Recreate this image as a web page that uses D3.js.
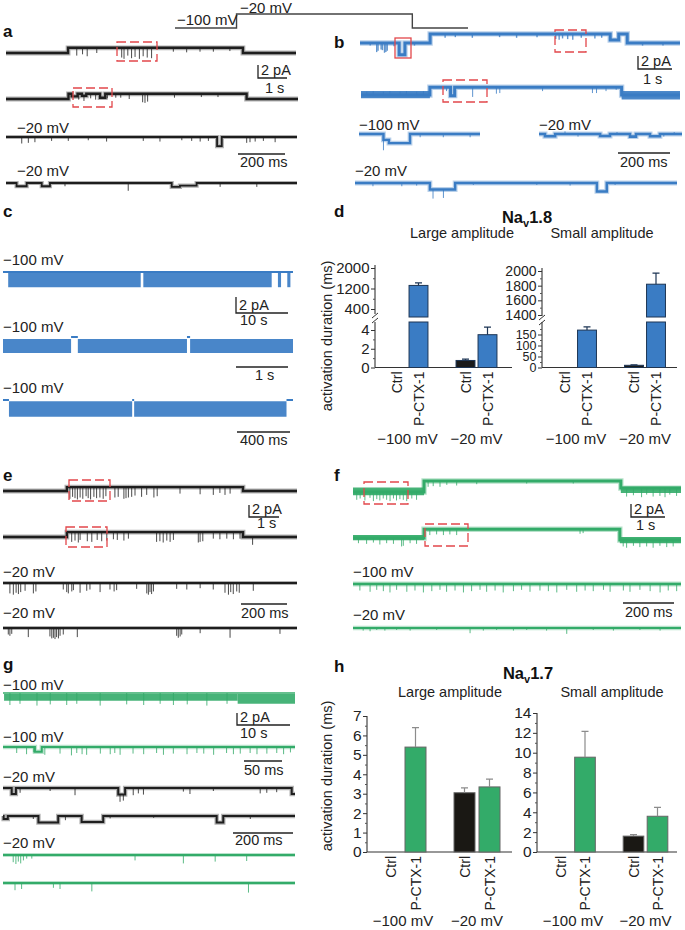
<!DOCTYPE html>
<html><head><meta charset="utf-8">
<script src="https://cdn.jsdelivr.net/npm/d3@7"></script>
<style>
body{margin:0;background:#fff}
svg{display:block;font-family:"Liberation Sans",Arial,sans-serif}
</style></head><body>
<svg id="fig" width="685" height="930"></svg>
<script>
// ---------------- DATA ----------------
// Voltage protocol (mV) with step times (s)
const protocolV = [[0, -100], [2.1, -100], [2.1, -20], [8.1, -20], [8.1, -100], [10, -100]];

// Bar charts: order = [Ctrl −100, P-CTX-1 −100, Ctrl −20, P-CTX-1 −20]
const groups = ["−100 mV", "−20 mV"];
const conditions = ["Ctrl", "P-CTX-1"];
const nav18Large = [0, 1320, 0.75, 3.5];
const nav18LargeErr = [0, 100, 0.15, 0.8];
const nav18Small = [0, 170, 10, 1820];
const nav18SmallErr = [0, 15, 2, 150];
const nav17Large = [0, 5.4, 3.05, 3.35];
const nav17LargeErr = [0, 1.0, 0.25, 0.4];
const nav17Small = [0, 9.55, 1.6, 3.6];
const nav17SmallErr = [0, 2.6, 0.15, 0.9];
const nav18LargeUpTicks = [400, 1200, 2000];
const nav18LargeLowTicks = [0, 2, 4];
const nav18SmallUpTicks = [1400, 1600, 1800, 2000];
const nav18SmallLowTicks = [0, 50, 100, 150];
const nav17LargeTicks = [0, 1, 2, 3, 4, 5, 6, 7];
const nav17SmallTicks = [0, 2, 4, 6, 8, 10, 12, 14];

// Traces: levels [t0,t1,pA], dips [t0,t1,depth pA], spikes [t,depth pA], bands [t0,t1,lo,hi]
// panel a (s / ms)
const a1Levels = [[0, 2.14, 0], [2.14, 8.17, 0.8], [8.17, 10, 0]];
const a1Spikes = [[2.44, 1.2], [2.64, 1.0], [2.80, 1.3], [3.13, 0.8], [3.99, 1.5], [4.07, 1.7], [4.20, 1.2], [4.33, 1.6], [4.45, 1.4], [4.60, 1.7], [4.73, 1.3], [4.87, 1.5], [5.02, 1.6], [5.77, 0.6], [6.23, 0.7], [6.69, 0.6], [7.15, 0.6], [7.72, 0.5]];
const a2Levels = [[0, 2.14, 0], [2.14, 8.24, 0.8], [8.24, 10, 0]];
const a2Dips = [[2.25, 2.45, 0.4], [2.6, 2.75, 0.3], [3.22, 3.4, 0.6]];
const a2Spikes = [[2.49, 0.9], [2.67, 0.8], [2.90, 0.7], [3.07, 0.9], [3.47, 0.7], [3.76, 0.6], [3.93, 0.6], [4.22, 0.8], [4.68, 1.3], [4.76, 1.4], [4.85, 1.2], [5.77, 0.6], [6.69, 0.5], [7.26, 0.5]];
const a3Dips = [[898, 918, 1.4]];
const a3Spikes = [[67, 1.0], [95, 0.9], [123, 0.8], [194, 0.6], [265, 0.6], [350, 0.5], [428, 0.7], [584, 0.6], [655, 0.7], [748, 0.5], [790, 0.6], [826, 0.7], [861, 0.6], [1024, 0.9], [1038, 0.8], [1060, 0.7], [1095, 0.6], [1145, 0.8]];
const a4Dips = [[45, 88, 0.5], [152, 187, 0.5], [705, 740, 0.6], [740, 811, 0.4]];
const a4Spikes = [[251, 0.5], [520, 1.2], [911, 0.6], [1067, 0.6]];
// panel b
const b1Levels = [[0, 2.06, 0], [2.06, 7.35, 1.4], [7.35, 7.6, 0.45], [7.6, 7.85, 1.4], [7.85, 9.4, 0]];
const b1Dips = [[1.15, 1.32, 1.8]];
const b1Spikes = [[0.3, 0.4], [0.49, 1.4], [0.53, 1.2], [0.62, 1.0], [0.66, 1.1], [0.72, 1.5], [0.76, 1.4], [0.80, 1.2], [1.0, 0.5], [1.6, 0.4], [2.5, 0.6], [2.8, 0.5], [3.3, 0.6], [4.1, 0.5], [4.6, 0.6], [5.2, 0.5], [5.75, 0.8], [5.85, 0.9], [5.95, 0.7], [6.1, 0.8], [6.25, 0.9], [6.5, 0.6], [6.9, 0.7], [7.1, 0.6], [8.3, 0.4], [8.9, 0.4]];
const b2Levels = [[0, 2.03, 0], [2.03, 7.68, 1.2], [7.68, 9.4, 0]];
const b2Dips = [[2.64, 2.76, 1.3]];
const b2Bands = [[0, 2.03, -0.5, 0.6], [7.68, 9.4, -0.7, 0.6]];
const b2Spikes = [[0.17, -0.5], [0.36, -0.6], [0.66, -0.5], [0.85, -0.6], [1.15, -0.5], [1.34, -0.6], [1.64, -0.5], [1.84, -0.6], [2.52, 0.6], [3.29, 1.5], [3.99, 1.0], [4.09, 0.9], [5.35, 0.6], [6.82, 0.9], [6.94, 0.9], [7.22, 0.6], [7.52, 0.4]];
const b3Dips = [[94, 115, 0.9], [115, 196, 1.4]];
const b3Spikes = [[94, 1.6], [235, 0.5], [324, 0.5], [427, 0.5]];
const b4Dips = [[23, 62, 0.35], [235, 273, 0.3], [350, 373, 0.4], [427, 465, 0.35]];
const b4Spikes = [[100, -0.4], [150, 0.4], [300, -0.3], [480, 0.4], [520, -0.3]];
const b5Dips = [[288, 385, 1.0], [930, 968, 1.3]];
const b5Spikes = [[69, 0.5], [180, 0.5], [237, 0.4], [300, 1.4], [340, 1.3], [455, 0.3], [699, 0.3], [827, 0.4], [1000, 0.3]];
// panel c
const c1Levels = [[0, 55.8, 0]];
const c1Bands = [[1.0, 26.5, -1.9, -0.1], [27.0, 51.7, -1.9, -0.1], [52.9, 53.5, -1.9, -0.1], [54.7, 55.3, -1.9, -0.1]];
const c2Levels = [[1.31, 1.44, 0], [3.54, 3.6, 0]];
const c2Bands = [[0, 1.31, -2.0, -0.25], [1.44, 3.54, -2.0, -0.25], [3.6, 5.58, -2.0, -0.25]];
const c3Levels = [[0, 45, 0], [975, 990, 0], [2140, 2189, 0]];
const c3Bands = [[45, 975, -2.1, -0.15], [990, 2140, -2.1, -0.15]];
// panel e
const e1Levels = [[0, 2.13, 0], [2.13, 8.0, 0.6], [8.0, 9.8, 0]];
const e1Spikes = [[2.23, 1.8], [2.32, 1.5], [2.40, 1.7], [2.48, 1.9], [2.57, 1.6], [2.66, 1.8], [2.77, 1.4], [2.84, 1.7], [2.92, 1.9], [3.03, 1.5], [3.12, 1.7], [3.23, 1.6], [3.34, 1.8], [3.43, 1.4], [3.73, 1.6], [3.84, 1.5], [4.03, 1.8], [4.10, 1.7], [4.18, 1.6], [4.29, 1.5], [4.40, 1.3], [4.62, 1.5], [4.79, 1.2], [5.03, 1.6], [5.14, 1.4], [5.90, 1.0], [6.57, 1.1], [7.01, 1.2], [7.23, 0.9], [7.40, 1.2], [7.57, 1.0]];
const e2Levels = [[0, 2.13, 0], [2.13, 8.0, 0.75], [8.0, 9.8, 0]];
const e2Spikes = [[2.29, 1.5], [2.40, 1.3], [2.51, 1.6], [2.57, 1.2], [2.81, 1.4], [2.96, 1.5], [3.14, 1.2], [3.29, 1.4], [3.46, 1.3], [3.68, 1.1], [3.81, 1.2], [4.03, 1.3], [4.18, 1.0], [5.12, 1.5], [5.23, 1.4], [5.34, 1.6], [5.46, 1.3], [5.57, 1.5], [5.68, 1.2], [6.51, 1.6], [6.57, 1.5], [6.66, 1.4], [7.01, 1.0], [7.23, 1.1], [7.46, 1.0], [7.68, 1.1], [7.90, 1.0], [8.32, 1.2]];
const e3Spikes = [[30, 1.6], [45, 1.8], [57, 1.5], [67, 1.7], [77, 1.4], [96, 1.2], [132, 1.6], [143, 1.3], [262, 1.0], [277, 1.4], [284, 1.6], [299, 1.3], [306, 1.1], [335, 1.5], [364, 1.2], [378, 1.0], [422, 1.4], [465, 1.0], [483, 1.3], [494, 1.1], [581, 0.9], [625, 1.6], [632, 1.8], [639, 1.4], [646, 1.7], [654, 1.3], [755, 0.9], [799, 1.0], [857, 0.8], [914, 1.0], [965, 1.5], [980, 1.8], [990, 1.4], [1001, 1.7], [1016, 1.3], [1027, 1.5], [1088, 1.2]];
const e4Spikes = [[23, 1.0], [30, 1.2], [38, 0.9], [110, 1.4], [204, 1.3], [212, 1.6], [219, 1.5], [226, 1.7], [233, 1.4], [241, 1.6], [248, 1.2], [262, 1.0], [323, 1.4], [755, 1.2], [762, 1.5], [770, 1.3], [777, 1.0], [857, 0.8], [987, 1.5], [1204, 0.9]];
// panel f
const f1Levels = [[0, 2.09, 0], [2.09, 7.88, 1.7], [7.88, 9.65, 0.6]];
const f1Bands = [[0, 2.09, -0.5, 0.7], [7.88, 9.65, -0.15, 0.8]];
const f1Spikes = [[0.11, 1.2], [0.21, 1.0], [0.35, 1.3], [0.50, 0.9], [0.60, 1.4], [0.70, 1.1], [0.79, 1.3], [0.89, 1.0], [0.99, 1.2], [1.09, 1.4], [1.19, 1.0], [1.28, 1.3], [1.38, 1.1], [1.48, 1.2], [1.58, 1.4], [1.73, 1.0], [1.87, 1.2], [2.21, 0.9], [2.36, 0.8], [2.56, 0.9], [2.76, 0.6], [3.05, 0.7], [3.64, 0.5], [5.11, 0.4], [6.48, 0.4], [8.05, 1.3], [8.25, 1.1], [8.49, 1.4], [8.64, 1.0], [8.83, 1.3], [9.03, 1.2], [9.18, 1.4], [9.32, 1.0], [9.52, 1.2]];
const f2Levels = [[0, 2.09, 0], [2.09, 7.85, 1.35], [7.85, 9.65, -0.3]];
const f2Bands = [[0, 2.09, -0.3, 0.45], [7.85, 9.65, -0.8, 0.15]];
const f2Spikes = [[0.16, 0.8], [0.40, 0.9], [0.60, 0.7], [0.79, 1.0], [0.99, 0.8], [1.19, 0.9], [1.43, 1.3], [1.48, 1.2], [1.68, 0.8], [1.87, 0.9], [2.26, 0.9], [2.46, 0.8], [2.66, 0.9], [2.85, 0.8], [3.05, 0.9], [6.68, 0.7], [6.77, 0.6], [7.95, 1.0], [8.05, 1.2], [8.25, 0.9], [8.44, 1.1], [8.64, 1.0], [8.83, 1.2], [9.03, 0.9], [9.23, 1.1], [9.42, 1.0]];
const f3Spikes = [[27, 1.0], [67, 1.2], [93, 0.9], [119, 1.1], [145, 1.3], [171, 0.9], [211, 1.2], [243, 1.0], [276, 1.3], [309, 1.1], [341, 0.9], [367, 1.2], [400, 1.0], [433, 1.3], [465, 1.1], [498, 0.9], [524, 1.2], [557, 1.0], [589, 1.3], [629, 1.1], [661, 0.9], [694, 1.2], [733, 1.0], [766, 1.1], [799, 1.3], [838, 0.9], [877, 1.2], [910, 1.0], [942, 1.1], [982, 0.9], [1008, 1.2], [1060, 1.0], [1086, 1.2], [1125, 0.9], [1165, 1.1], [1204, 1.3], [1236, 1.0], [1269, 1.1]];
const f4Spikes = [[40, 0.4], [67, 0.5], [93, 0.3], [125, 0.4], [171, 0.3], [224, 0.4], [328, 0.3], [459, 0.8], [511, 0.4], [563, 0.3], [629, 0.4], [681, 0.3], [759, 0.4], [838, 0.9], [942, 0.3], [1021, 0.4], [1125, 0.3], [1204, 0.4]];
// panel g
const g1Levels = [[0, 55, 0]];
const g1Bands = [[0.2, 44.2, -1.3, -0.15], [44.2, 55, -1.8, -0.15]];
const g1Spikes = [[1.3, 2.0], [3.2, 1.8], [6.4, 2.1], [8.9, 1.9], [12.0, 2.0], [13.9, 1.8], [18.3, 2.1], [23.3, 1.9], [26.5, 2.0], [29.6, 1.8], [32.1, 2.0], [34.7, 1.9], [38.4, 2.1], [42.2, 1.8]];
const g2Dips = [[42, 51, 0.8]];
const g2Spikes = [[18, 1.0], [31, 1.2], [40, 0.9], [55, 1.3], [75, 1.1], [90, 1.4], [97, 1.0], [104, 1.2], [110, 1.3], [128, 1.1], [141, 1.2], [147, 1.0], [154, 1.3], [171, 1.1], [185, 1.2], [202, 1.0], [211, 1.3], [224, 1.1], [242, 1.2], [255, 1.0], [264, 1.1], [277, 1.3], [294, 1.0], [303, 1.2], [312, 1.1], [325, 1.0], [334, 1.2], [347, 1.1], [360, 1.0], [369, 1.2], [378, 0.9]];
const g3Dips = [[29, 43, 1.0], [384, 407, 1.1], [962, 973, 1.0]];
const g3Spikes = [[57, 0.8], [157, 0.5], [240, 1.2], [390, 1.2], [401, 1.0], [434, 1.2], [451, 0.9], [468, 1.1], [601, 0.6], [623, 1.0], [701, 0.5], [857, 0.9], [879, 0.8], [912, 0.7]];
const g4Dips = [[2, 16, 0.5], [118, 184, 1.1], [262, 334, 1.0], [712, 734, 1.1]];
const g4Spikes = [[101, 0.5], [208, 0.7], [357, 0.4], [502, 0.3], [824, 0.5]];
const g5Spikes = [[34, 1.2], [43, 1.5], [51, 1.1], [59, 1.4], [68, 0.9], [79, 0.6], [96, 0.6], [440, 0.9], [601, 1.4], [707, 1.1], [812, 1.0]];
const g6Spikes = [[40, 1.2], [62, 1.0], [168, 0.8], [190, 1.0], [296, 1.4], [818, 1.6]];

// ---------------- DRAWING ----------------
const svg = d3.select("#fig");
const BLACK = "#1e1e1e", BLUE = "#3a7cc4", GREEN = "#33ab69", RED = "#e2474b", INK = "#222";

function label(x, y, s, o = {}) {
  const t = svg.append("text").attr("x", x).attr("y", y).text(s)
    .attr("font-size", o.size || 15).attr("fill", o.fill || INK);
  if (o.anchor) t.attr("text-anchor", o.anchor);
  if (o.weight) t.attr("font-weight", o.weight);
  return t;
}

function drawTrace(o) {
  const g = svg.append("g");
  const x = d3.scaleLinear().domain([0, o.dur]).range([o.x0, o.x1]);
  const y = d3.scaleLinear().domain([0, 1]).range([o.y0, o.y0 - o.ppa]);
  const levels = o.levels || [[0, o.dur, 0]];
  const dips = o.dips || [];
  const levelAt = t => { for (const s of levels) if (t >= s[0] && t <= s[1]) return s[2]; return 0; };
  const dipAt = t => d3.sum(dips.filter(d => t >= d[0] && t < d[1]), d => d[2]);
  const area = d3.area().x(d => x(d.t)).y0(d => y(d.lo)).y1(d => y(d.hi));
  (o.bands || []).forEach(b => {
    g.append("path").datum([{ t: b[0], lo: b[2], hi: b[3] }, { t: b[1], lo: b[2], hi: b[3] }])
      .attr("d", area).attr("fill", o.color).attr("opacity", o.bandOpacity || 0.9);
  });
  const pts = [];
  let prevEnd = null;
  levels.forEach(s => {
    if (prevEnd !== null && s[0] !== prevEnd) pts.push(null);
    const bps = [s[0], s[1]];
    dips.forEach(d => { if (d[0] > s[0] && d[0] < s[1]) bps.push(d[0]); if (d[1] > s[0] && d[1] < s[1]) bps.push(d[1]); });
    const sb = Array.from(new Set(bps)).sort((a, b) => a - b);
    for (let i = 0; i < sb.length - 1; i++) {
      const v = s[2] - dipAt((sb[i] + sb[i + 1]) / 2);
      pts.push({ t: sb[i], v }, { t: sb[i + 1], v });
    }
    prevEnd = s[1];
  });
  const line = d3.line().defined(d => d).x(d => x(d.t)).y(d => y(d.v));
  if (o.halo !== false) {
    g.append("path").attr("d", line(pts)).attr("fill", "none")
      .attr("stroke", o.color).attr("stroke-width", (o.w || 2.2) + 2.4).attr("opacity", 0.35);
  }
  g.append("path").attr("d", line(pts)).attr("fill", "none")
    .attr("stroke", o.color).attr("stroke-width", o.w || 2.2);
  g.selectAll(".sp").data(o.spikes || []).enter().append("line")
    .attr("x1", d => x(d[0])).attr("x2", d => x(d[0]))
    .attr("y1", d => y(levelAt(d[0]) - dipAt(d[0])))
    .attr("y2", d => y(levelAt(d[0]) - dipAt(d[0]) - d[1]))
    .attr("stroke", o.color).attr("stroke-width", o.sw || 1).attr("opacity", 0.8);
}

function redBox(x0, y0, x1, y1, dashed = true) {
  svg.append("rect").attr("x", x0).attr("y", y0).attr("width", x1 - x0).attr("height", y1 - y0)
    .attr("fill", "none").attr("stroke", RED).attr("stroke-width", 1.3)
    .attr("stroke-dasharray", dashed ? "9,4" : null);
}

function scaleBar(sx, sy0, sy1, sx2, tl, tx, ty) {
  svg.append("path").attr("d", `M${sx},${sy0}V${sy1}H${sx2}`).attr("fill", "none").attr("stroke", INK).attr("stroke-width", 1.3);
  label(sx + 3, sy1 - 3, "2 pA", { size: 14.5 });
  label(tx, ty, tl, { size: 14.5 });
}
function timeBar(x0, x1, yy, tl, tx, ty) {
  svg.append("line").attr("x1", x0).attr("x2", x1).attr("y1", yy).attr("y2", yy).attr("stroke", INK).attr("stroke-width", 1.3);
  label(tx, ty, tl, { size: 14.5 });
}

// Voltage protocol
{
  const x = d3.scaleLinear().domain([0, 10]).range([175, 468]);
  const y = d3.scaleLinear().domain([-100, -20]).range([28, 14]);
  const pl = d3.line().x(d => x(d[0])).y(d => y(d[1]));
  svg.append("path").attr("d", pl(protocolV)).attr("fill", "none").attr("stroke", "#444").attr("stroke-width", 1.4);
  label(177, 25, "−100 mV", { size: 15 });
  label(240, 13, "−20 mV", { size: 15 });
}

// Panel letters
[["a", 3, 37], ["b", 334, 48], ["c", 3, 217], ["d", 334, 217], ["e", 3, 481], ["f", 334, 481], ["g", 3, 670], ["h", 334, 672]]
  .forEach(d => label(d[1], d[2], d[0], { size: 17, weight: "bold", fill: "#111" }));

// Panel a
drawTrace({ x0: 6, x1: 296, y0: 53, ppa: 6.5, dur: 10, levels: a1Levels, spikes: a1Spikes, color: BLACK, w: 2.4 });
drawTrace({ x0: 6, x1: 298, y0: 99, ppa: 6.5, dur: 10, levels: a2Levels, dips: a2Dips, spikes: a2Spikes, color: BLACK, w: 2.4 });
label(17, 133, "−20 mV");
drawTrace({ x0: 6, x1: 297, y0: 137, ppa: 6.5, dur: 1238, dips: a3Dips, spikes: a3Spikes, color: BLACK, w: 1.8 });
label(17, 176, "−20 mV");
drawTrace({ x0: 6, x1: 297, y0: 183, ppa: 6.5, dur: 1238, dips: a4Dips, spikes: a4Spikes, color: BLACK, w: 1.8 });
redBox(117, 42, 157, 61); redBox(73, 88, 112, 107);
scaleBar(258, 65, 78, 287, "1 s", 265, 93);
timeBar(238, 285, 154, "200 ms", 240, 167);

// Panel b
drawTrace({ x0: 360, x1: 680, y0: 43, ppa: 6.5, dur: 9.4, levels: b1Levels, dips: b1Dips, spikes: b1Spikes, color: BLUE, w: 3.0, sw: 1.4 });
drawTrace({ x0: 361, x1: 680, y0: 95, ppa: 6.5, dur: 9.4, levels: b2Levels, dips: b2Dips, bands: b2Bands, spikes: b2Spikes, color: BLUE, w: 3.0 });
label(359, 130, "−100 mV");
drawTrace({ x0: 359, x1: 480, y0: 134, ppa: 6.5, dur: 465, dips: b3Dips, spikes: b3Spikes, color: BLUE, w: 2.4 });
label(539, 130, "−20 mV");
drawTrace({ x0: 539, x1: 682, y0: 134, ppa: 6.5, dur: 550, dips: b4Dips, spikes: b4Spikes, color: BLUE, w: 2.6 });
label(355, 176, "−20 mV");
drawTrace({ x0: 355, x1: 677, y0: 183, ppa: 6.5, dur: 1238, dips: b5Dips, spikes: b5Spikes, color: BLUE, w: 2.4 });
redBox(395, 38, 411, 58, false); redBox(555, 30, 586, 52); redBox(443, 80, 487, 102);
scaleBar(638, 56, 69, 672, "1 s", 643, 84);
timeBar(618, 670, 153, "200 ms", 620, 167);

// Panel c
label(3, 265, "−100 mV");
drawTrace({ x0: 3, x1: 293, y0: 272, ppa: 8, dur: 55.8, levels: c1Levels, bands: c1Bands, color: BLUE, w: 1.8, halo: false, bandOpacity: 0.92 });
label(3, 332, "−100 mV");
drawTrace({ x0: 3, x1: 293, y0: 337, ppa: 8, dur: 5.58, levels: c2Levels, bands: c2Bands, color: BLUE, w: 1.8, halo: false, bandOpacity: 0.92 });
label(3, 393, "−100 mV");
drawTrace({ x0: 3, x1: 293, y0: 400, ppa: 8, dur: 2189, levels: c3Levels, bands: c3Bands, color: BLUE, w: 1.8, halo: false, bandOpacity: 0.92 });
scaleBar(236, 297, 313, 288, "10 s", 240, 325);
timeBar(236, 288, 367, "1 s", 255, 380);
timeBar(237, 290, 432, "400 ms", 240, 445);

// Panel e
drawTrace({ x0: 3, x1: 297, y0: 491, ppa: 6.5, dur: 9.8, levels: e1Levels, spikes: e1Spikes, color: BLACK, w: 2.4 });
drawTrace({ x0: 3, x1: 297, y0: 537, ppa: 6.5, dur: 9.8, levels: e2Levels, spikes: e2Spikes, color: BLACK, w: 2.4 });
label(3, 577, "−20 mV");
drawTrace({ x0: 3, x1: 297, y0: 583, ppa: 6.5, dur: 1278, spikes: e3Spikes, color: BLACK, w: 1.8 });
label(3, 618, "−20 mV");
drawTrace({ x0: 3, x1: 297, y0: 628, ppa: 6.5, dur: 1278, spikes: e4Spikes, color: BLACK, w: 1.8 });
redBox(69, 480, 110, 501); redBox(66, 527, 107, 547);
scaleBar(249, 505, 517, 279, "1 s", 257, 528);
timeBar(241, 287, 604, "200 ms", 241, 618);

// Panel f
drawTrace({ x0: 353, x1: 681, y0: 492, ppa: 6.5, dur: 9.65, levels: f1Levels, bands: f1Bands, spikes: f1Spikes, color: GREEN, w: 3.0 });
drawTrace({ x0: 353, x1: 681, y0: 538, ppa: 6.5, dur: 9.65, levels: f2Levels, bands: f2Bands, spikes: f2Spikes, color: GREEN, w: 3.0 });
label(353, 577, "−100 mV");
drawTrace({ x0: 353, x1: 681, y0: 584, ppa: 6.5, dur: 1286, spikes: f3Spikes, color: GREEN, w: 2.4 });
label(353, 620, "−20 mV");
drawTrace({ x0: 353, x1: 681, y0: 628, ppa: 6.5, dur: 1286, spikes: f4Spikes, color: GREEN, w: 2.0 });
redBox(364, 482, 408, 504); redBox(425, 524, 468, 546);
scaleBar(631, 504, 517, 665, "1 s", 636, 530);
timeBar(623, 674, 603, "200 ms", 625, 617);

// Panel g
label(3, 690, "−100 mV");
drawTrace({ x0: 3, x1: 295, y0: 693, ppa: 6, dur: 55, levels: g1Levels, bands: g1Bands, spikes: g1Spikes, color: GREEN, w: 1.6, halo: false });
label(3, 742, "−100 mV");
drawTrace({ x0: 3, x1: 295, y0: 747, ppa: 6, dur: 384, dips: g2Dips, spikes: g2Spikes, color: GREEN, w: 2.0 });
label(3, 782, "−20 mV");
drawTrace({ x0: 3, x1: 295, y0: 788, ppa: 6, dur: 973, dips: g3Dips, spikes: g3Spikes, color: BLACK, w: 2.0 });
drawTrace({ x0: 3, x1: 295, y0: 816, ppa: 6, dur: 973, dips: g4Dips, spikes: g4Spikes, color: BLACK, w: 2.0 });
label(3, 848, "−20 mV");
drawTrace({ x0: 3, x1: 295, y0: 855, ppa: 6, dur: 973, spikes: g5Spikes, color: GREEN, w: 1.8 });
drawTrace({ x0: 3, x1: 295, y0: 883, ppa: 6, dur: 973, spikes: g6Spikes, color: GREEN, w: 1.8 });
scaleBar(237, 713, 725, 290, "10 s", 240, 738);
timeBar(244, 282, 761, "50 ms", 244, 775);
timeBar(233, 293, 833, "200 ms", 235, 845);

// ---------------- Bar charts ----------------
function yAxis(g, scale, ticks, minor, ax, fs) {
  const a = g.append("g").attr("transform", `translate(${ax},0)`)
    .call(d3.axisLeft(scale).tickValues(ticks).tickSize(4).tickPadding(1.5).tickFormat(d3.format("~g")));
  a.attr("font-size", fs).attr("font-family", null);
  a.select(".domain").remove();
  a.selectAll("line").attr("stroke", "#333");
  a.selectAll("text").attr("fill", INK);
  const m = g.append("g").attr("transform", `translate(${ax},0)`)
    .call(d3.axisLeft(scale).tickValues(minor).tickSize(2).tickFormat(""));
  m.select(".domain").remove();
  m.selectAll("line").attr("stroke", "#555");
}

function barChart(c) {
  const g = svg.append("g");
  const xg = d3.scalePoint().domain(groups).range(c.groupRange);
  const xc = d3.scaleBand().domain(conditions).range([-c.step, c.step]).paddingInner(c.pad).paddingOuter(c.pad / 2);
  const yL = d3.scaleLinear().domain(c.lowDomain).range(c.lowRange);
  const yU = c.upDomain ? d3.scaleLinear().domain(c.upDomain).range(c.upRange) : null;
  const base = yL(0);
  g.append("line").attr("x1", c.ax).attr("x2", c.ax).attr("y1", c.lowTop).attr("y2", base).attr("stroke", "#333").attr("stroke-width", 1.1);
  g.append("line").attr("x1", c.ax).attr("x2", c.xEnd).attr("y1", base).attr("y2", base).attr("stroke", "#333").attr("stroke-width", 1.1);
  yAxis(g, yL, c.lowTicks, c.lowMinor, c.ax, c.lowFs || c.fs);
  if (yU) {
    g.append("line").attr("x1", c.ax).attr("x2", c.ax).attr("y1", c.upTop).attr("y2", c.upAxisBottom).attr("stroke", "#333").attr("stroke-width", 1.1);
    yAxis(g, yU, c.upTicks, c.upMinor, c.ax, c.upFs || c.fs);
    [0, 5].forEach(o => g.append("line").attr("x1", c.ax - 3).attr("x2", c.ax + 3)
      .attr("y1", c.upAxisBottom + 4 + o).attr("y2", c.upAxisBottom - 1 + o).attr("stroke", "#333").attr("stroke-width", 1));
  }
  const items = [];
  groups.forEach((gr, gi) => conditions.forEach((cd, ci) => {
    const k = gi * 2 + ci;
    items.push({ gr, cd, v: c.values[k], e: c.errs[k], cx: xg(gr) + xc(cd) + xc.bandwidth() / 2, x: xg(gr) + xc(cd) });
  }));
  const bw = xc.bandwidth();
  items.forEach(d => {
    const fill = d.cd === "Ctrl" ? c.ctrlColor : c.color;
    if (d.v > 0) {
      let capY, topY;
      if (yU && yL(d.v) < c.lowTop) {
        g.append("rect").attr("x", d.x).attr("y", c.lowTop).attr("width", bw).attr("height", base - c.lowTop)
          .attr("fill", fill).attr("stroke", c.edge).attr("stroke-width", 1);
        topY = yU(d.v);
        g.append("rect").attr("x", d.x).attr("y", topY).attr("width", bw).attr("height", c.upBarBottom - topY)
          .attr("fill", fill).attr("stroke", c.edge).attr("stroke-width", 1);
        capY = yU(d.v + d.e);
      } else {
        topY = yL(d.v);
        g.append("rect").attr("x", d.x).attr("y", topY).attr("width", bw).attr("height", base - topY)
          .attr("fill", fill).attr("stroke", c.edge).attr("stroke-width", 1);
        capY = yL(d.v + d.e);
      }
      g.append("path").attr("d", `M${d.cx},${topY}V${capY}M${d.cx - 3.5},${capY}H${d.cx + 3.5}`)
        .attr("fill", "none").attr("stroke", c.errColor).attr("stroke-width", 1.2);
    }
    g.append("text").attr("transform", `translate(${d.cx + 5},${base + 4}) rotate(-90)`)
      .attr("text-anchor", "end").attr("font-size", 14).attr("fill", INK).text(d.cd);
  });
  groups.forEach(gr => g.append("text").attr("x", xg(gr)).attr("y", c.groupLabelY)
    .attr("text-anchor", "middle").attr("font-size", 15).attr("fill", INK).text(gr));
}

function navTitle(cx, y, num) {
  const t = svg.append("text").attr("x", cx).attr("y", y).attr("text-anchor", "middle")
    .attr("font-size", 16.5).attr("font-weight", "bold").attr("fill", "#111");
  t.append("tspan").text("Na");
  t.append("tspan").attr("dy", 4).attr("font-size", 11).text("v");
  t.append("tspan").attr("dy", -4).text(num);
}

// Panel d
navTitle(527, 223, "1.8");
label(462, 238, "Large amplitude", { anchor: "middle", size: 14.5 });
label(602, 238, "Small amplitude", { anchor: "middle", size: 14.5 });
svg.append("text").attr("transform", "translate(332,336) rotate(-90)").attr("text-anchor", "middle")
  .attr("font-size", 14.5).attr("fill", INK).text("activation duration (ms)");
barChart({
  ax: 375, xEnd: 512, groupRange: [407.5, 476.5], step: 22, pad: 0.14,
  values: nav18Large, errs: nav18LargeErr, color: BLUE, ctrlColor: "#1a1a1a", edge: "#1d3554", errColor: "#1d3554",
  lowDomain: [0, 4], lowRange: [367.5, 330], lowTop: 322, lowTicks: nav18LargeLowTicks, lowMinor: [1, 3],
  upDomain: [400, 2000], upRange: [309, 268], upTop: 265, upAxisBottom: 314, upBarBottom: 317,
  upTicks: nav18LargeUpTicks, upMinor: [800, 1600], fs: 15, groupLabelY: 444
});
barChart({
  ax: 542, xEnd: 677, groupRange: [576, 645], step: 22, pad: 0.14,
  values: nav18Small, errs: nav18SmallErr, color: BLUE, ctrlColor: "#1a1a1a", edge: "#1d3554", errColor: "#1d3554",
  lowDomain: [0, 150], lowRange: [367.5, 334.5], lowTop: 322, lowTicks: nav18SmallLowTicks, lowMinor: [25, 75, 125, 175],
  upDomain: [1400, 2000], upRange: [315, 271], upTop: 268, upAxisBottom: 316, upBarBottom: 317,
  upTicks: nav18SmallUpTicks, upMinor: [1500, 1700, 1900], fs: 15, lowFs: 12.5, upFs: 14, groupLabelY: 444
});

// Panel h
navTitle(528, 679, "1.7");
label(450, 697, "Large amplitude", { anchor: "middle", size: 14.5 });
label(612, 697, "Small amplitude", { anchor: "middle", size: 14.5 });
svg.append("text").attr("transform", "translate(332,776) rotate(-90)").attr("text-anchor", "middle")
  .attr("font-size", 14.5).attr("fill", INK).text("activation duration (ms)");
barChart({
  ax: 367, xEnd: 512, groupRange: [403, 477], step: 25, pad: 0.16,
  values: nav17Large, errs: nav17LargeErr, color: GREEN, ctrlColor: "#1a1814", edge: "#666", errColor: "#8c8c8c",
  lowDomain: [0, 7], lowRange: [852, 716], lowTop: 716, lowTicks: nav17LargeTicks,
  lowMinor: [0.5, 1.5, 2.5, 3.5, 4.5, 5.5, 6.5], fs: 15.5, groupLabelY: 926
});
barChart({
  ax: 537, xEnd: 677, groupRange: [573, 645.5], step: 24, pad: 0.14,
  values: nav17Small, errs: nav17SmallErr, color: GREEN, ctrlColor: "#1a1814", edge: "#666", errColor: "#8c8c8c",
  lowDomain: [0, 14], lowRange: [852, 713], lowTop: 713, lowTicks: nav17SmallTicks,
  lowMinor: [1, 3, 5, 7, 9, 11, 13], fs: 15.5, groupLabelY: 926
});
</script></body></html>
